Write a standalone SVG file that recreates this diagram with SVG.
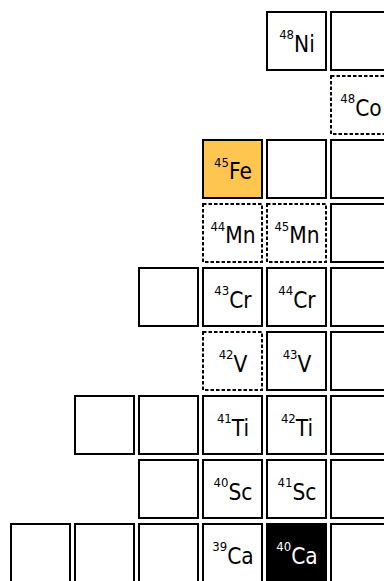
<svg xmlns="http://www.w3.org/2000/svg" width="384" height="581" viewBox="0 0 384 581">
<style>
.c{fill:#fff;stroke:#000;stroke-width:2}
.d{fill:#fff;stroke:#000;stroke-width:2;stroke-dasharray:3.5,2}
.fe{fill:#FFC64F;stroke:#000;stroke-width:2}
.blk{fill:#000;stroke:#000;stroke-width:2}
text{font-family:"DejaVu Sans Condensed","DejaVu Sans",sans-serif;text-anchor:middle;fill:#000}
.w{fill:#fff}
.s{font-size:13px}
.m{font-size:22.5px}
</style>
<rect width="384" height="581" fill="#fff"/>
<g id="connectors"/>
<g id="n-r0-empty"><rect class="c" x="331" y="12" width="59" height="58"/></g>
<g id="Ni48"><rect class="c" x="267" y="12" width="59" height="58"/><text x="297" y="51.5"><tspan class="s" dy="-12.7">48</tspan><tspan class="m" dy="12.7">Ni</tspan></text></g>
<g id="Co48"><rect class="d" x="331" y="76" width="59" height="58"/><text x="361" y="115.5"><tspan class="s" dy="-12.7">48</tspan><tspan class="m" dy="12.7">Co</tspan></text></g>
<g id="Fe45"><rect class="fe" x="203" y="140" width="59" height="58"/><text x="233" y="179.3"><tspan class="s" dy="-12.7">45</tspan><tspan class="m" dy="12.7">Fe</tspan></text></g>
<g id="r2c4"><rect class="c" x="267" y="140" width="59" height="58"/></g>
<g id="r2c5"><rect class="c" x="331" y="140" width="59" height="58"/></g>
<g id="Mn44"><rect class="d" x="203" y="204" width="59" height="58"/><text x="233" y="243.4"><tspan class="s" dy="-12.7">44</tspan><tspan class="m" dy="12.7">Mn</tspan></text></g>
<g id="Mn45"><rect class="d" x="267" y="204" width="59" height="58"/><text x="297" y="243.4"><tspan class="s" dy="-12.7">45</tspan><tspan class="m" dy="12.7">Mn</tspan></text></g>
<g id="r3c5"><rect class="c" x="331" y="204" width="59" height="58"/></g>
<g id="r4c2"><rect class="c" x="139" y="268" width="59" height="58"/></g>
<g id="Cr43"><rect class="c" x="203" y="268" width="59" height="58"/><text x="233" y="307.5"><tspan class="s" dy="-12.7">43</tspan><tspan class="m" dy="12.7">Cr</tspan></text></g>
<g id="Cr44"><rect class="c" x="267" y="268" width="59" height="58"/><text x="297" y="307.5"><tspan class="s" dy="-12.7">44</tspan><tspan class="m" dy="12.7">Cr</tspan></text></g>
<g id="r4c5"><rect class="c" x="331" y="268" width="59" height="58"/></g>
<g id="V42"><rect class="d" x="203" y="332" width="59" height="58"/><text x="233" y="371.5"><tspan class="s" dy="-12.7">42</tspan><tspan class="m" dy="12.7">V</tspan></text></g>
<g id="V43"><rect class="c" x="267" y="332" width="59" height="58"/><text x="297" y="371.5"><tspan class="s" dy="-12.7">43</tspan><tspan class="m" dy="12.7">V</tspan></text></g>
<g id="r5c5"><rect class="c" x="331" y="332" width="59" height="58"/></g>
<g id="r6c1"><rect class="c" x="75" y="396" width="59" height="58"/></g>
<g id="r6c2"><rect class="c" x="139" y="396" width="59" height="58"/></g>
<g id="Ti41"><rect class="c" x="203" y="396" width="59" height="58"/><text x="233" y="435.5"><tspan class="s" dy="-12.7">41</tspan><tspan class="m" dy="12.7">Ti</tspan></text></g>
<g id="Ti42"><rect class="c" x="267" y="396" width="59" height="58"/><text x="297" y="435.5"><tspan class="s" dy="-12.7">42</tspan><tspan class="m" dy="12.7">Ti</tspan></text></g>
<g id="r6c5"><rect class="c" x="331" y="396" width="59" height="58"/></g>
<g id="r7c2"><rect class="c" x="139" y="460" width="59" height="58"/></g>
<g id="Sc40"><rect class="c" x="203" y="460" width="59" height="58"/><text x="233" y="499.5"><tspan class="s" dy="-12.7">40</tspan><tspan class="m" dy="12.7">Sc</tspan></text></g>
<g id="Sc41"><rect class="c" x="267" y="460" width="59" height="58"/><text x="297" y="499.5"><tspan class="s" dy="-12.7">41</tspan><tspan class="m" dy="12.7">Sc</tspan></text></g>
<g id="r7c5"><rect class="c" x="331" y="460" width="59" height="58"/></g>
<g id="r8c0"><rect class="c" x="11" y="524" width="59" height="60"/></g>
<g id="r8c1"><rect class="c" x="75" y="524" width="59" height="60"/></g>
<g id="r8c2"><rect class="c" x="139" y="524" width="59" height="60"/></g>
<g id="Ca39"><rect class="c" x="203" y="524" width="59" height="60"/><text x="233" y="563.5"><tspan class="s" dy="-12.7">39</tspan><tspan class="m" dy="12.7">Ca</tspan></text></g>
<g id="Ca40"><rect class="blk" x="267" y="524" width="59" height="60"/><text class="w" x="297" y="563.5"><tspan class="s" dy="-12.7">40</tspan><tspan class="m" dy="12.7">Ca</tspan></text></g>
<g id="r8c5"><rect class="c" x="331" y="524" width="59" height="60"/></g>
</svg>
